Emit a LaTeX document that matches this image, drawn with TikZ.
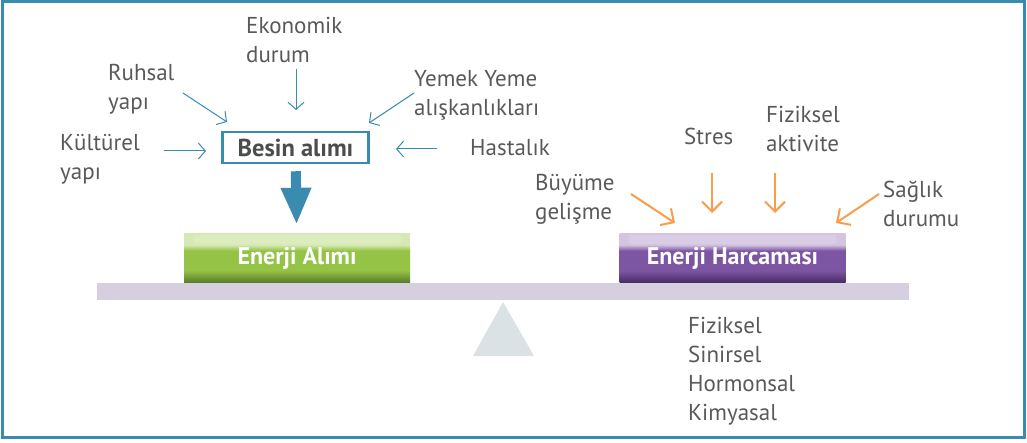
\documentclass[tikz,border=0pt]{standalone}
\usepackage{fontspec}
\setmainfont{PT Sans}
\usetikzlibrary{calc}
\usetikzlibrary{arrows.meta}

\definecolor{frameblue}{HTML}{3A8BB0}
\definecolor{txtgray}{HTML}{58595B}
\definecolor{orangearr}{HTML}{F79D4B}
\definecolor{beamgray}{HTML}{D5CFDF}
\definecolor{fulcrumgray}{HTML}{DBE2E6}
\definecolor{greenlight}{HTML}{D6E9B4}
\definecolor{greenmid}{HTML}{95C346}
\definecolor{greendark}{HTML}{58782B}
\definecolor{purplelight}{HTML}{D3C4E0}
\definecolor{purplemid}{HTML}{7D56A3}
\definecolor{purpledark}{HTML}{472B63}

\pgfdeclareverticalshading{greenbtn}{100bp}{color(0bp)=(greendark); color(25bp)=(greendark); color(38bp)=(greenmid); color(58bp)=(greenmid); color(64bp)=(greenlight); color(75bp)=(greenlight); color(100bp)=(greenlight)}
\pgfdeclareverticalshading{purplebtn}{100bp}{color(0bp)=(purpledark); color(25bp)=(purpledark); color(38bp)=(purplemid); color(58bp)=(purplemid); color(64bp)=(purplelight); color(75bp)=(purplelight); color(100bp)=(purplelight)}

\tikzset{
  lbl/.style={align=left, anchor=base west, inner sep=0pt, text=txtgray, font=\fontsize{23}{29}\selectfont},
  btn/.style={minimum width=226pt, minimum height=49pt, inner sep=0pt, text=white, font=\fontsize{24}{28}\selectfont\bfseries},
  besinbox/.style={draw=frameblue, line width=2.5pt, minimum width=146pt, minimum height=31pt, inner sep=0pt, text=txtgray!85!black, font=\fontsize{24.5}{28}\selectfont\bfseries},
  thinarr/.style={frameblue, line width=1pt, -{Straight Barb[length=7pt,width=16pt]}},
  orarr/.style={orangearr, line width=2pt, -{Straight Barb[length=10pt,width=20pt]}},
  bigarr/.style={frameblue, line width=10pt, -{Triangle[length=37pt,width=28pt]}}
}

\begin{document}
\begin{tikzpicture}[x=1pt,y=-1pt]
\useasboundingbox (0,0) rectangle (1027,443);
\draw[frameblue, line width=3pt] (2.5,2) rectangle (1024.5,437.5);

% terazi
\fill[beamgray] (97,283) rectangle (909,300);
\fill[fulcrumgray] (503,302) -- (534,356) -- (473,356) -- cycle;

\node[btn, shading=greenbtn] (alim) at (297,258.5) {Enerji Alımı};
\node[btn, shading=purplebtn] (harcama) at (732.5,258.5) {Enerji Harcaması};
\foreach \b in {alim, harcama}
\fill[white, opacity=.15, rounded corners=3pt] ($(\b.north west)+(9,1)$) rectangle ($(\b.north east)+(-9,10)$);

\node[besinbox] (besin) at (295.5,147.5) {Besin alımı};
\draw[bigarr, shorten <=7pt, shorten >=9pt] (besin) -- (alim);

% besin alimini etkileyenler (base = son satir)
\node[lbl] (ekonomik) at (246,63) {Ekonomik\\durum};
\node[lbl] (ruhsal) at (108,110) {Ruhsal\\yapı};
\node[lbl] (kulturel) at (60,180) {Kültürel\\yapı};
\node[lbl] (yemek) at (414,116) {Yemek Yeme\\alışkanlıkları};
\node[lbl] (hastalik) at (470,156) {Hastalık};

\coordinate (ekonomik-a) at (296,69);  \coordinate (ekonomik-b) at (296,110);
\coordinate (ruhsal-a) at (183,93);    \coordinate (ruhsal-b) at (227,122);
\coordinate (kulturel-a) at (164,151); \coordinate (kulturel-b) at (206,151);
\coordinate (yemek-a) at (414,93);     \coordinate (yemek-b) at (369,123);
\coordinate (hastalik-a) at (437,149); \coordinate (hastalik-b) at (396,149);
\foreach \n in {ekonomik, ruhsal, kulturel, yemek, hastalik}
\draw[thinarr] (\n-a) -- (\n-b);

% enerji harcamasini etkileyenler
\node[lbl] (stres) at (684,145) {Stres};
\node[lbl] (aktivite) at (766,152) {Fiziksel\\aktivite};
\node[lbl] (buyume) at (535,220) {Büyüme\\gelişme};
\node[lbl] (saglik) at (883,227) {Sağlık\\durumu};

\coordinate (stres-a) at (712,173);    \coordinate (stres-b) at (712,213);
\coordinate (aktivite-a) at (775,173); \coordinate (aktivite-b) at (775,213);
\coordinate (buyume-a) at (631,194);   \coordinate (buyume-b) at (675,223);
\coordinate (saglik-a) at (879,194);   \coordinate (saglik-b) at (836,223);
\foreach \n in {stres, aktivite, buyume, saglik}
\draw[orarr] (\n-a) -- (\n-b);

\node[lbl] (sistem) at (688,420) {Fiziksel\\Sinirsel\\Hormonsal\\Kimyasal};

\end{tikzpicture}
\end{document}
